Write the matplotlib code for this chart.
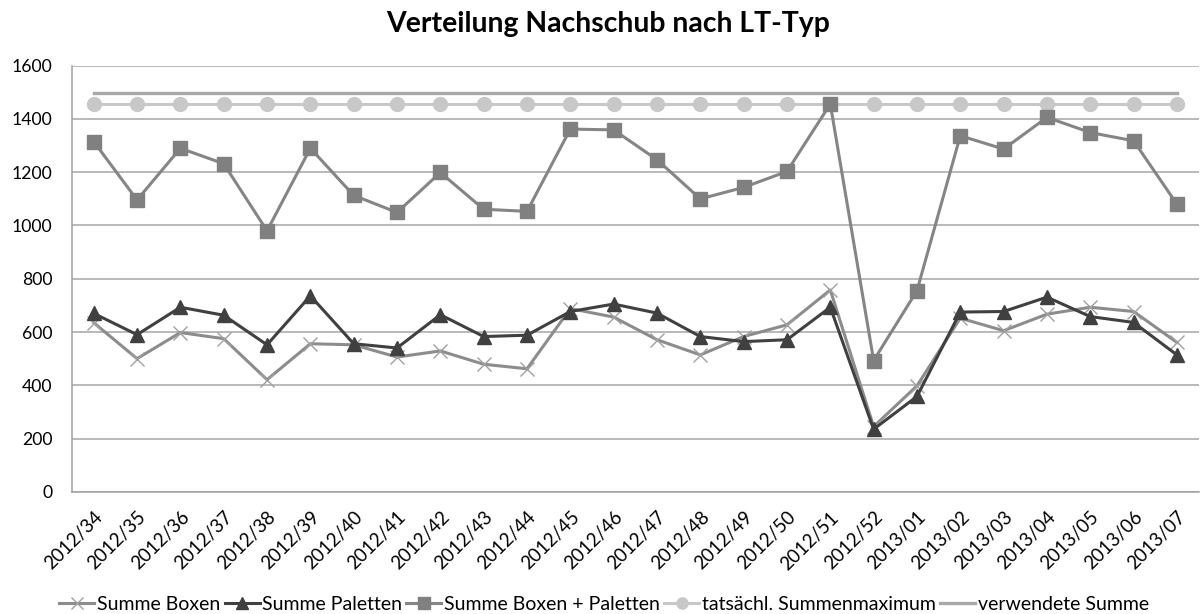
import matplotlib
matplotlib.use("Agg")
import numpy as np
import matplotlib.pyplot as plt

# Kalenderwochen
weeks = [f"2012/{w}" for w in range(34, 53)] + [f"2013/{w:02d}" for w in range(1, 8)]

summe_boxen = [635, 500, 598, 575, 421, 556, 552, 506, 529, 479, 462, 688, 656,
               571, 514, 583, 627, 758, 245, 398, 652, 605, 667, 693, 677, 561]
summe_paletten = [670, 590, 693, 663, 552, 736, 556, 540, 665, 583, 588, 677, 705,
                  671, 583, 564, 571, 693, 235, 358, 675, 677, 731, 658, 636, 514]
summe_gesamt = [1315, 1096, 1290, 1232, 980, 1290, 1113, 1049, 1199, 1061, 1053, 1362, 1359,
                1247, 1100, 1143, 1203, 1456, 493, 755, 1337, 1287, 1406, 1349, 1318, 1080]
summenmaximum = [1455] * len(weeks)
verwendete_summe = [1497] * len(weeks)

plt.rcParams.update({
    "font.family": ["Lato", "DejaVu Sans"],
    "font.size": 12,
})

fig = plt.figure(figsize=(12.01, 6.14), dpi=100)
ax = fig.add_axes([0.06, 0.199, 0.938, 0.694])

x = np.arange(len(weeks))

ax.plot(x, verwendete_summe, color="#a8a8a8", lw=2.4, label="verwendete Summe", zorder=2)
ax.plot(x, summenmaximum, color="#c8c8c8", lw=2.2, marker="o", ms=10,
        mfc="#c8c8c8", mec="#c8c8c8", label="tatsächl. Summenmaximum", zorder=3)
ax.plot(x, summe_gesamt, color="#858585", lw=2.2, marker="s", ms=10,
        mfc="#808080", mec="#808080", label="Summe Boxen + Paletten", zorder=4)
ax.plot(x, summe_boxen, color="#8c8c8c", lw=2.2, marker="x", ms=10, mew=1.0,
        mec="#a0a0a0", label="Summe Boxen", zorder=5)
ax.plot(x, summe_paletten, color="#404040", lw=2.2, marker="^", ms=10,
        mfc="#404040", mec="#404040", label="Summe Paletten", zorder=6)

ax.set_xlim(-0.5, len(weeks) - 0.5)
ax.set_ylim(0, 1600)
ax.set_yticks(range(0, 1601, 200))
ax.set_xticks(x)
ax.set_xticklabels(weeks, rotation=45, ha="right", rotation_mode="anchor", fontsize=13.5)
ax.tick_params(axis="y", labelsize=12.7, pad=14)
ax.tick_params(axis="x", pad=12)
ax.tick_params(length=0)
ax.grid(axis="y", color="#a6a6a6", lw=1.1)
ax.set_axisbelow(True)
for s in ["top", "right"]:
    ax.spines[s].set_visible(False)
for s in ["left", "bottom"]:
    ax.spines[s].set_color("#a0a0a0")
    ax.spines[s].set_linewidth(1.1)

fig.text(0.506, 0.961, "Verteilung Nachschub nach LT-Typ", fontsize=20.4,
         fontweight="bold", ha="center", va="center")

handles, labels = ax.get_legend_handles_labels()
order = ["Summe Boxen", "Summe Paletten", "Summe Boxen + Paletten",
         "tatsächl. Summenmaximum", "verwendete Summe"]
h = [handles[labels.index(l)] for l in order]
leg = fig.legend(h, order, loc="center", bbox_to_anchor=(0.503, 0.016), ncol=5,
                 frameon=False, fontsize=14, handlelength=1.8, handletextpad=0.15,
                 columnspacing=0.2, markerscale=0.8, borderpad=0)

fig.savefig("out.png", dpi=100)
